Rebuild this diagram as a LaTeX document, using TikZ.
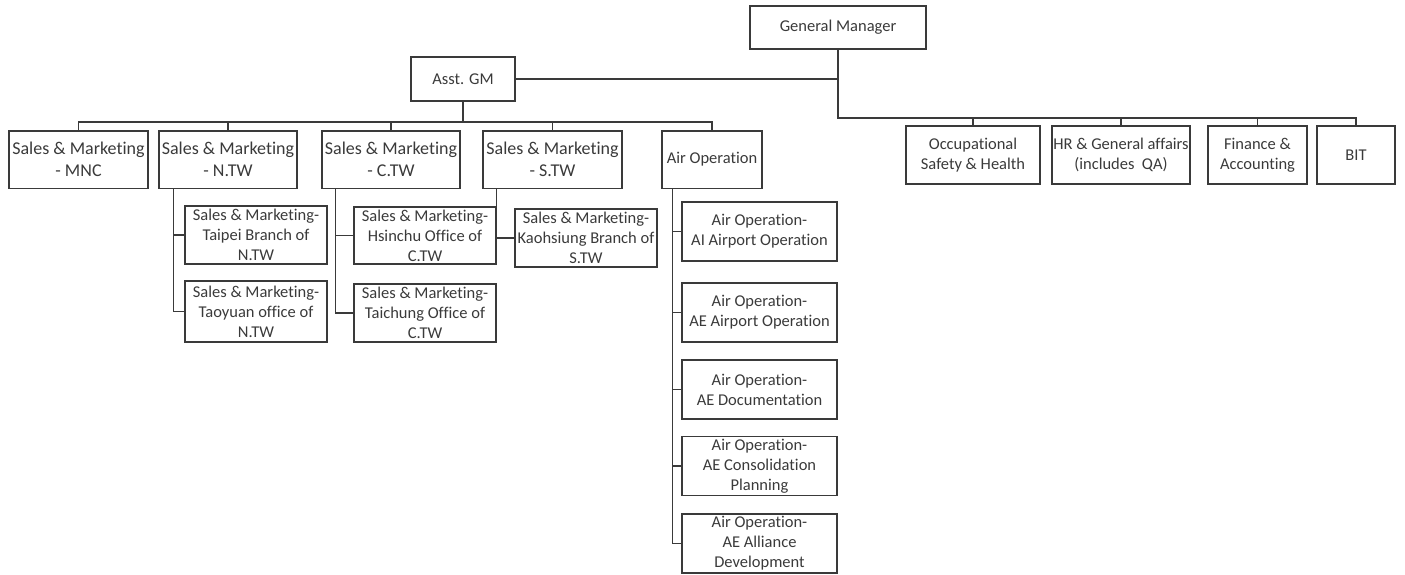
\documentclass[tikz,border=0pt]{standalone}
\usepackage{fontspec}
\setmainfont{Carlito}[Ligatures=NoCommon]
\definecolor{ink}{HTML}{3A3A3A}
\begin{document}
\begin{tikzpicture}[x=1pt,y=-1pt,
	unit/.style={draw=ink, line width=1.5pt, text=ink, inner sep=0pt, align=center, font=\fontsize{16.5}{20}\selectfont},
	dept/.style={unit, font=\fontsize{18}{22}\selectfont},
	link/.style={draw=ink, line width=1.5pt}]
	\useasboundingbox (0,0) rectangle (1405,574);
	\node[unit, minimum width=176, minimum height=43] (gm) at (838,27.5) {General Manager};
	\node[unit, minimum width=104, minimum height=44] (agm) at (463,79) {Asst. GM};

	\node[dept, minimum width=139, minimum height=57.5] (mnc) at (78.5,159.5) {Sales \& Marketing\\- MNC};
	\node[dept, minimum width=138, minimum height=57.5] (ntw) at (228,159.5) {Sales \& Marketing\\- N.TW};
	\node[dept, minimum width=138, minimum height=57.5] (ctw) at (391,159.5) {Sales \& Marketing\\- C.TW};
	\node[dept, minimum width=139, minimum height=57.5] (stw) at (552.5,159.5) {Sales \& Marketing\\- S.TW};
	\node[unit, minimum width=100, minimum height=57.5] (air) at (712,159.5) {Air Operation};

	\node[unit, minimum width=134, minimum height=58] (osh) at (973,155) {Occupational\\Safety \& Health};
	\node[unit, minimum width=138, minimum height=58] (hr) at (1121,155) {HR \& General affairs\\(includes~~QA)};
	\node[unit, minimum width=99, minimum height=58] (fin) at (1257.5,155) {Finance \&\\Accounting};
	\node[unit, minimum width=78, minimum height=58] (bit) at (1356,155) {BIT};

	\node[unit, minimum width=142, minimum height=58] (taipei) at (256,235) {Sales \& Marketing-\\Taipei Branch of\\N.TW};
	\node[unit, minimum width=142, minimum height=61] (taoyuan) at (256,311.5) {Sales \& Marketing-\\Taoyuan office of\\N.TW};
	\node[unit, minimum width=142, minimum height=57] (hsinchu) at (425,235.5) {Sales \& Marketing-\\Hsinchu Office of\\C.TW};
	\node[unit, minimum width=142, minimum height=58] (taichung) at (425,313) {Sales \& Marketing-\\Taichung Office of\\C.TW};
	\node[unit, minimum width=142, minimum height=58] (kaohsiung) at (586,238) {Sales \& Marketing-\\Kaohsiung Branch of\\S.TW};

	\node[unit, minimum width=155, minimum height=59] (ai) at (759.5,231.5) {Air Operation-\\AI Airport Operation};
	\node[unit, minimum width=155, minimum height=59] (ae) at (759.5,312.5) {Air Operation-\\AE Airport Operation};
	\node[unit, minimum width=155, minimum height=59] (doc) at (759.5,389.5) {Air Operation-\\AE Documentation};
	\node[unit, minimum width=155, minimum height=59] (plan) at (759.5,466) {Air Operation-\\AE Consolidation\\Planning};
	\node[unit, minimum width=155, minimum height=59] (dev) at (759.5,543.5) {Air Operation-\\AE Alliance\\Development};

	\path[link] (gm.south) |- (agm.east);
	\path[link] (gm.south) -- ++(0,68) -| (osh.north);
	\path[link] (gm.south) -- ++(0,68) -| (hr.north);
	\path[link] (gm.south) -- ++(0,68) -| (fin.north);
	\path[link] (gm.south) -- ++(0,68) -| (bit.north);

	\path[link] (agm.south) -- ++(0,20) -| (mnc.north);
	\path[link] (agm.south) -- ++(0,20) -| (ntw.north);
	\path[link] (agm.south) -- ++(0,20) -| (ctw.north);
	\path[link] (agm.south) -- ++(0,20) -| (stw.north);
	\path[link] (agm.south) -- ++(0,20) -| (air.north);

	\path[link] (ntw.south west) ++(15,0) |- (taipei.west);
	\path[link] (ntw.south west) ++(15,0) |- (taoyuan.west);
	\path[link] (ctw.south west) ++(14,0) |- (hsinchu.west);
	\path[link] (ctw.south west) ++(14,0) |- (taichung.west);
	\path[link] (stw.south west) ++(14,0) |- (kaohsiung.west);

	\path[link] (air.south west) ++(11,0) |- (ai.west);
	\path[link] (air.south west) ++(11,0) |- (ae.west);
	\path[link] (air.south west) ++(11,0) |- (doc.west);
	\path[link] (air.south west) ++(11,0) |- (plan.west);
	\path[link] (air.south west) ++(11,0) |- (dev.west);
\end{tikzpicture}
\end{document}
